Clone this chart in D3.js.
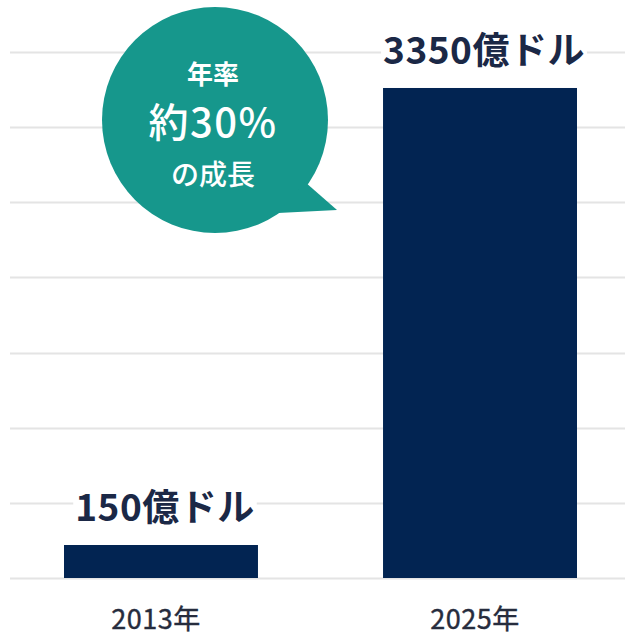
<!DOCTYPE html>
<html>
<head>
<meta charset="utf-8">
<script src="https://cdn.jsdelivr.net/npm/d3@7/dist/d3.min.js"></script>
<style>
  html, body { margin: 0; padding: 0; background: #ffffff; }
  svg { display: block; }
</style>
</head>
<body>
<svg id="chart" width="625" height="636"></svg>
<script>
// ---- data ----
const categories = ["2013年", "2025年"];
const values = [150, 3350];
const valueLabels = ["150億ドル", "3350億ドル"];
const bubbleLines = ["年率", "約30%", "の成長"];
const gridCount = 7;

// ---- layout ----
const W = 625, H = 636;
const baseY = 578, topY = 52;
const svg = d3.select("#chart");

const x = d3.scaleBand()
  .domain(categories)
  .range([64, 577])
  .paddingInner(0.392)
  .paddingOuter(0);

// illustrative (non-zero based) value scale, matching the picture's bar heights
const y = d3.scaleLinear()
  .domain([-81, 3602])
  .range([baseY, topY]);

const gridScale = d3.scaleLinear().domain([0, gridCount]).range([baseY, topY]);

// gridlines
svg.append("g")
  .selectAll("line")
  .data(d3.range(gridCount + 1))
  .join("line")
  .attr("x1", 10).attr("x2", W)
  .attr("y1", d => Math.round(gridScale(d)) + 0.5)
  .attr("y2", d => Math.round(gridScale(d)) + 0.5)
  .attr("stroke", "#e4e4e4")
  .attr("stroke-width", 2);

// bars
svg.append("g")
  .selectAll("rect")
  .data(values)
  .join("rect")
  .attr("x", (d, i) => x(categories[i]))
  .attr("width", x.bandwidth())
  .attr("y", d => y(d))
  .attr("height", d => baseY - y(d))
  .attr("fill", "#022452");

// value labels with white backing
const vl = svg.append("g");
values.forEach((v, i) => {
  const cx = x(categories[i]) + x.bandwidth() / 2 + 4;
  const by = y(v) - 24;
  const t = vl.append("text")
    .attr("x", cx)
    .attr("y", by)
    .attr("text-anchor", "middle")
    .attr("font-family", "'Noto Sans CJK JP', 'Noto Sans', sans-serif")
    .attr("font-weight", 700)
    .attr("font-size", 37)
    .attr("letter-spacing", 0.5)
    .attr("fill", "#1b2846")
    .text(valueLabels[i]);
  const bb = t.node().getBBox();
  vl.insert("rect", "text")
    .attr("x", bb.x - 2).attr("y", bb.y + 4)
    .attr("width", bb.width + 4).attr("height", bb.height - 8)
    .attr("fill", "#ffffff");
});

// category labels
svg.append("g")
  .selectAll("text")
  .data(categories)
  .join("text")
  .attr("x", d => x(d) + x.bandwidth() / 2 - 5)
  .attr("y", 629)
  .attr("text-anchor", "middle")
  .attr("font-family", "'Noto Sans CJK JP', 'Noto Sans', sans-serif")
  .attr("font-weight", 400)
  .attr("font-size", 27)
  .attr("letter-spacing", 0.5)
  .attr("fill", "#262c3d")
  .attr("stroke", "#262c3d")
  .attr("stroke-width", 0.4)
  .text(d => d);

// speech bubble
const bc = { x: 215, y: 120, r: 113 };
const bubble = svg.append("g");
bubble.append("circle")
  .attr("cx", bc.x).attr("cy", bc.y).attr("r", bc.r)
  .attr("fill", "#16978c");
bubble.append("path")
  .attr("d", "M305,182 L337,210 L278,213 Z")
  .attr("fill", "#16978c");

const bt = [
  { t: bubbleLines[0], y: 84, size: 26, w: 700 },
  { t: bubbleLines[1], y: 137, size: 40, w: 500 },
  { t: bubbleLines[2], y: 185, size: 28, w: 500 }
];
bubble.selectAll("text")
  .data(bt)
  .join("text")
  .attr("x", 213)
  .attr("y", d => d.y)
  .attr("text-anchor", "middle")
  .attr("font-family", "'Noto Sans CJK JP', 'Noto Sans', sans-serif")
  .attr("font-weight", d => d.w)
  .attr("font-size", d => d.size)
  .attr("letter-spacing", d => d.size > 30 ? 1.5 : 0)
  .attr("fill", "#ffffff")
  .text(d => d.t);
</script>
</body>
</html>
